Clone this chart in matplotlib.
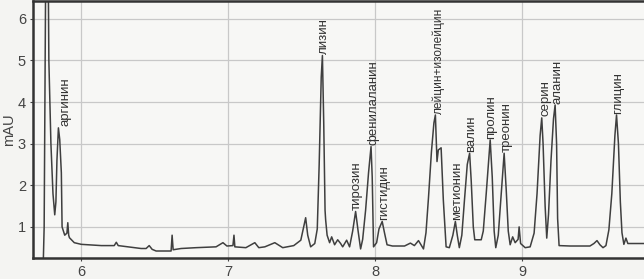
import numpy as np
import matplotlib.pyplot as plt
import matplotlib as mpl

mpl.rcParams['font.family'] = ['Liberation Sans', 'DejaVu Sans']

# chromatogram trace (time, min / signal, mAU)
time_min = [5.740, 5.747, 5.752, 5.759, 5.773, 5.779, 5.793, 5.807, 5.819, 5.827,
            5.834, 5.844, 5.853, 5.864, 5.869, 5.887, 5.902, 5.908, 5.914, 5.919,
            5.952, 6.000, 6.136, 6.224, 6.238, 6.251, 6.407, 6.441, 6.462, 6.482,
            6.509, 6.597, 6.611, 6.618, 6.625, 6.679, 6.781, 6.917, 6.964, 6.991,
            7.032, 7.039, 7.045, 7.120, 7.181, 7.208, 7.249, 7.317, 7.371, 7.446,
            7.494, 7.527, 7.541, 7.561, 7.589, 7.606, 7.619, 7.633, 7.641, 7.650,
            7.659, 7.663, 7.673, 7.690, 7.704, 7.724, 7.745, 7.765, 7.779, 7.806,
            7.826, 7.847, 7.867, 7.884, 7.901, 7.915, 7.935, 7.955, 7.972, 7.980,
            7.989, 8.010, 8.026, 8.048, 8.064, 8.081, 8.118, 8.200, 8.240, 8.267,
            8.295, 8.329, 8.346, 8.363, 8.383, 8.400, 8.410, 8.421, 8.430, 8.449,
            8.464, 8.483, 8.505, 8.529, 8.546, 8.559, 8.573, 8.590, 8.607, 8.627,
            8.643, 8.654, 8.668, 8.678, 8.722, 8.736, 8.756, 8.783, 8.797, 8.810,
            8.821, 8.838, 8.858, 8.878, 8.892, 8.906, 8.919, 8.936, 8.953, 8.973,
            8.980, 8.990, 9.021, 9.055, 9.082, 9.102, 9.123, 9.134, 9.143, 9.157,
            9.168, 9.180, 9.197, 9.214, 9.225, 9.235, 9.242, 9.252, 9.327, 9.462,
            9.489, 9.510, 9.530, 9.551, 9.571, 9.591, 9.611, 9.632, 9.643, 9.656,
            9.669, 9.680, 9.693, 9.707, 9.720, 9.829]
signal_mau = [0.00, 1.00, 4.00, 8.00, 8.00, 5.00, 3.00, 1.80, 1.29, 1.60,
              2.60, 3.38, 3.10, 2.30, 1.00, 0.80, 0.85, 1.10, 0.80, 0.74,
              0.62, 0.58, 0.55, 0.55, 0.63, 0.55, 0.48, 0.48, 0.55, 0.46,
              0.42, 0.42, 0.42, 0.80, 0.45, 0.48, 0.50, 0.52, 0.62, 0.54,
              0.55, 0.80, 0.52, 0.50, 0.62, 0.50, 0.52, 0.62, 0.50, 0.55,
              0.68, 1.22, 0.80, 0.52, 0.60, 0.95, 2.50, 4.60, 5.12, 3.50,
              1.40, 1.17, 0.80, 0.62, 0.76, 0.57, 0.69, 0.60, 0.52, 0.68,
              0.52, 0.90, 1.37, 0.90, 0.47, 0.70, 1.40, 2.30, 2.93, 2.20,
              0.52, 0.62, 0.95, 1.13, 0.85, 0.57, 0.54, 0.54, 0.61, 0.55,
              0.67, 0.47, 0.86, 1.70, 2.80, 3.50, 3.69, 2.57, 2.85, 2.90,
              1.65, 0.52, 0.50, 0.80, 1.13, 0.80, 0.50, 0.80, 1.60, 2.50,
              2.77, 2.10, 1.00, 0.69, 0.69, 0.90, 1.80, 3.09, 2.20, 0.90,
              0.50, 0.80, 1.80, 2.77, 1.90, 0.90, 0.57, 0.76, 0.62, 0.70,
              1.00, 0.60, 0.50, 0.52, 0.85, 1.80, 3.20, 3.62, 3.00, 1.50,
              0.73, 1.30, 2.60, 3.60, 3.93, 3.00, 1.20, 0.55, 0.54, 0.54,
              0.60, 0.67, 0.57, 0.50, 0.55, 0.93, 1.80, 3.20, 3.69, 3.00,
              1.60, 0.86, 0.58, 0.73, 0.60, 0.60]

# peak labels
peak_names = ['аргинин', 'лизин', 'тирозин', 'фенилаланин', 'гистидин',
              'лейцин+изолейцин', 'метионин', 'валин', 'пролин', 'треонин',
              'серин', 'аланин', 'глицин']
peak_time = [5.844, 7.641, 7.867, 7.972, 8.048, 8.410, 8.546, 8.643, 8.783,
             8.878, 9.134, 9.225, 9.643]
peak_height = [3.38, 5.12, 1.37, 2.93, 1.13, 3.69, 1.13, 2.77, 3.09, 2.77,
               3.62, 3.93, 3.69]

x_ticks = [6, 7, 8, 9]
y_ticks = [1, 2, 3, 4, 5, 6]

# label styling: horizontal offsets (px) and font sizes
label_dx = [7, 2, 1, 2, 2, 3, 2, 2, 1, 3, 4, 2, 2]
label_size = [9.5, 9.5, 9.5, 9.5, 9.5, 8.6, 9.5, 9.5, 9.5, 9.5, 9.5, 9.5, 9.5]

fig = plt.figure(figsize=(6.44, 2.79), dpi=100, facecolor='#f4f4f2')
ax = fig.add_axes([0.051, 0.075, 0.949, 0.92])
ax.set_facecolor('#f7f7f5')

ax.plot(time_min, signal_mau, color='#3f3f3f', linewidth=1.1)

for name, t, h, dx, fs in zip(peak_names, peak_time, peak_height, label_dx, label_size):
    ax.annotate(name, xy=(t, h), xytext=(dx * 0.72, 1.0), textcoords='offset points',
                rotation=90, ha='center', va='bottom', fontsize=fs, color='#333333',
                annotation_clip=False)

ax.set_xlim(5.67, 9.83)
ax.set_ylim(0.25, 6.42)
ax.set_xticks(x_ticks)
ax.set_yticks(y_ticks)
ax.grid(True, color='#c8c8c8', linewidth=0.9)
ax.tick_params(length=2, width=0.8, labelsize=10.5, colors='#444444', pad=3)
ax.set_ylabel('mAU', fontsize=10.5, color='#444444', labelpad=1)

ax.spines['right'].set_visible(False)
for side in ['left', 'bottom', 'top']:
    ax.spines[side].set_linewidth(1.8)
    ax.spines[side].set_color('#333333')

fig.savefig('out.png', dpi=100, facecolor=fig.get_facecolor())
